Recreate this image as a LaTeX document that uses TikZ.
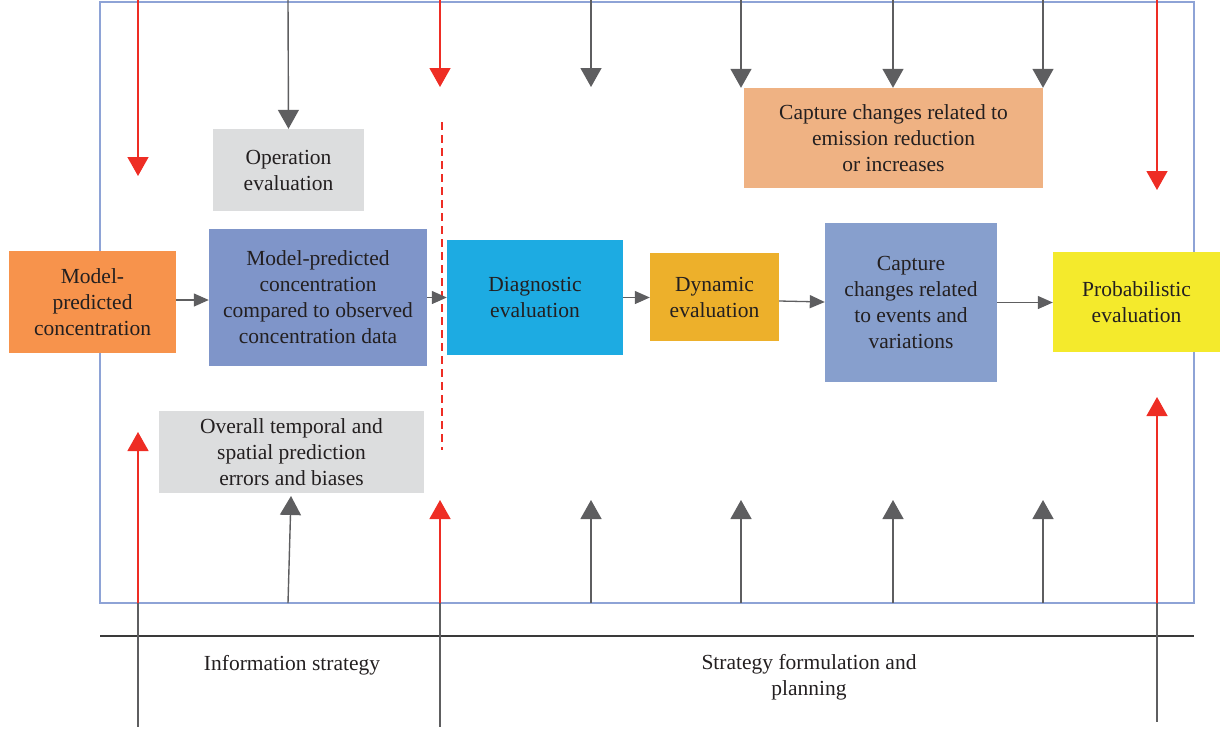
\documentclass[tikz,border=0pt]{standalone}
\usepackage{fontspec}
\setmainfont{Liberation Serif}
\usetikzlibrary{arrows.meta,calc}
\definecolor{txt}{HTML}{231F20}
\definecolor{cmp}{HTML}{F7934C}
\definecolor{ccmp}{HTML}{7F95C9}
\definecolor{cgray}{HTML}{DCDDDE}
\definecolor{cdiag}{HTML}{1DABE2}
\definecolor{cdyn}{HTML}{EDB02B}
\definecolor{ccev}{HTML}{879FCD}
\definecolor{cprob}{HTML}{F4EA2C}
\definecolor{cem}{HTML}{EFB283}
\definecolor{ag}{HTML}{5E5E60}
\definecolor{ar}{HTML}{EE2D24}
\definecolor{cframe}{HTML}{8EA3D6}
\definecolor{cblack}{HTML}{3A3A3A}
\begin{document}
\begin{tikzpicture}[x=1pt,y=-1pt,
  box/.style={rectangle, inner sep=0pt, align=center, text=txt, font=\fontsize{21.5}{26}\selectfont},
  lbl/.style={inner sep=0pt, align=center, text=txt, font=\fontsize{21.5}{26}\selectfont},
  garrow/.style={draw=ag, line width=1.4pt, -{Triangle[width=21pt,length=19pt]}},
  rarrow/.style={draw=ar, line width=1.4pt, -{Triangle[width=21pt,length=19pt]}},
  harrow/.style={draw=ag, line width=1.3pt, -{Triangle[width=13pt,length=15pt]}},
  gline/.style={draw=ag, line width=1.4pt}]
\useasboundingbox (0,0) rectangle (1220,729);
% frame and baseline
\draw[cframe, line width=1.2pt] (100,2) rectangle (1194,603);
\draw[cblack, line width=1.5pt] (100,636) -- (1194,636);
% coordinates
\foreach \x in {138,288,440,591,741,893,1043,1157}{
  \coordinate (t\x) at (\x,0);
  \coordinate (f\x) at (\x,603);
  \coordinate (u\x) at (\x,500);
}
\coordinate (b138) at (138,727);
\coordinate (b440) at (440,727);
\coordinate (b1157) at (1157,722);
\coordinate (tip138) at (138,176);
\coordinate (tip440) at (440,87);
\coordinate (tip591) at (591,87);
\coordinate (tip1157) at (1157,190);
\coordinate (up138) at (138,432);
\coordinate (up440) at (440,500);
\coordinate (up1157) at (1157,397);
\coordinate (up290) at (291,496);
\coordinate (d1) at (442,122);
\coordinate (d2) at (442,450);
% lines below the frame
\draw[gline] (f138) -- (b138);
\draw[gline] (f440) -- (b440);
\draw[gline] (f1157) -- (b1157);
% boxes
\node[box, fill=cmp, minimum width=167pt, minimum height=102pt] (mp) at (92.5,302) {Model-\\predicted\\concentration};
\node[box, fill=ccmp, minimum width=218pt, minimum height=137pt] (cm) at (318,297.5) {Model-predicted\\concentration\\compared to observed\\concentration data};
\node[box, fill=cgray, minimum width=151pt, minimum height=82pt] (op) at (288.5,170) {Operation\\evaluation};
\node[box, fill=cgray, minimum width=265pt, minimum height=82pt] (ov) at (291.5,452) {Overall temporal and\\spatial prediction\\errors and biases};
\node[box, fill=cdiag, minimum width=176pt, minimum height=115pt] (diag) at (535,297.5) {Diagnostic\\evaluation};
\node[box, fill=cdyn, minimum width=129pt, minimum height=88pt] (dyn) at (714.5,297) {Dynamic\\evaluation};
\node[box, fill=ccev, minimum width=172pt, minimum height=159pt] (cev) at (911,302.5) {Capture\\changes related\\to events and\\variations};
\node[box, fill=cprob, minimum width=167pt, minimum height=100pt] (prob) at (1136.5,302) {Probabilistic\\evaluation};
\node[box, fill=cem, minimum width=299pt, minimum height=100pt] (em) at (893.5,138) {Capture changes related to\\emission reduction\\or increases};
% labels
\node[lbl] (info) at (292,665) {Information strategy};
\node[lbl] (sfp) at (809,677.5) {Strategy formulation and\\planning};
% red dashed line
\draw[ar, line width=1.3pt, dash pattern=on 8pt off 5pt] (d1) -- (d2);
% horizontal arrows
\draw[harrow] ($(mp.east)+(0,-2)$) -- ($(mp.east -| cm.west)+(0,-2)$);
\draw[harrow] (cm.east) -- (cm.east -| diag.west);
\draw[harrow] (diag.east) -- (diag.east -| dyn.west);
\draw[harrow] ($(dyn.east)+(0,4)$) -- ($(cev.west)+(0,-0.5)$);
\draw[harrow] (cev.east) -- (cev.east -| prob.west);
% top arrows
\draw[rarrow] (t138) -- (tip138);
\draw[rarrow] (t440) -- (tip440);
\draw[rarrow] (t1157) -- (tip1157);
\draw[garrow] (t288) -- (op.north);
\draw[garrow] (t591) -- (tip591);
\draw[garrow] (t741) -- (t741 |- em.north);
\draw[garrow] (t893) -- (t893 |- em.north);
\draw[garrow] (t1043) -- (t1043 |- em.north);
% bottom arrows
\draw[rarrow] (f138) -- (up138);
\draw[rarrow] (f440) -- (up440);
\draw[rarrow] (f1157) -- (up1157);
\draw[garrow] (f288) -- (up290);
\foreach \x in {591,741,893,1043}{
  \draw[garrow] (f\x) -- (u\x);
}
\end{tikzpicture}
\end{document}
